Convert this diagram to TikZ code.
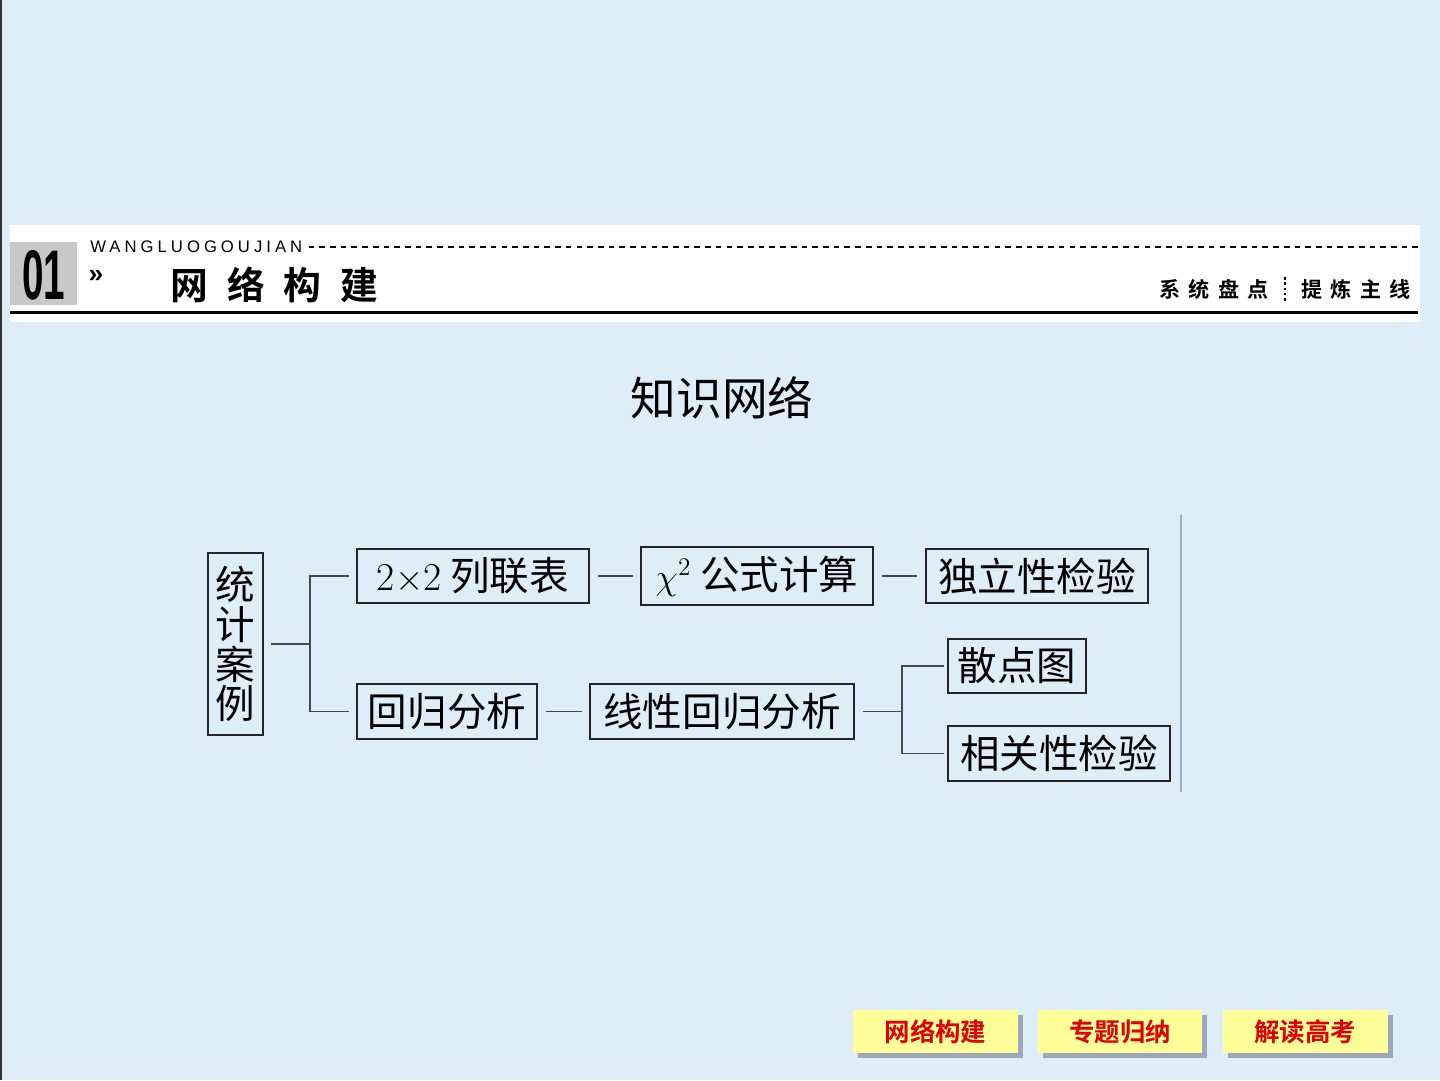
\documentclass[tikz,border=0pt]{standalone}
\usepackage{fontspec}
\setsansfont{Liberation Sans}
\newfontfamily\cjk[BoldFont={* Bold}]{Noto Sans CJK SC}
\usepackage{xcolor}
\usepackage{tikz}
\usetikzlibrary{shadows,calc}
\definecolor{bgblue}{HTML}{DDEEF9}
\definecolor{numgray}{HTML}{C8C8C8}
\definecolor{rulegray}{HTML}{9FB0C2}
\definecolor{navyellow}{HTML}{FFFF99}
\definecolor{navshadow}{HTML}{9EA8BA}
\definecolor{navred}{HTML}{E00000}
\tikzset{
  kbox/.style={draw=black!85,line width=1.1pt,inner sep=0pt,align=center,
    font=\cjk\fontsize{22.5}{22.7}\selectfont},
  klink/.style={line width=1pt,draw=black!72},
  knav/.style={fill=navyellow,inner sep=0pt,minimum width=3.3cm,minimum height=0.86cm,
    text=navred,font=\cjk\bfseries\fontsize{14.5}{16}\selectfont,
    drop shadow={shadow xshift=0.1cm,shadow yshift=-0.1cm,fill=navshadow,opacity=1}}
}

\begin{document}
\begin{tikzpicture}[x=0.02cm,y=-0.02cm]
  \useasboundingbox (0,0) rectangle (1440,1080);
  \fill[bgblue] (0,0) rectangle (1440,1080);
  \draw[black!80,line width=1.2pt] (0.5,0) -- (0.5,1080);

  % header band
  \fill[white] (10,225) rectangle (1420,322);
  \fill[numgray] (10,242) rectangle (77,305);
  \node[font=\sffamily\bfseries\fontsize{40}{40}\selectfont,xscale=0.55] (num) at (44,275) {01};
  \node[font=\sffamily\fontsize{9.5}{10}\selectfont\addfontfeature{LetterSpace=24},anchor=west,inner sep=0pt] (pinyin) at (90,247) {WANGLUOGOUJIAN};
  \draw[black,line width=0.8pt,dash pattern=on 3.2pt off 2.9pt] (pinyin.east) ++(6,0) coordinate (d0) -- (1420,247) coordinate (d1);
  \node[font=\sffamily\bfseries\fontsize{15}{15}\selectfont,inner sep=0pt] (chev) at (96,276) {»};
  \node[font=\cjk\bfseries\fontsize{21.5}{21.5}\selectfont\addfontfeature{LetterSpace=50},anchor=west,inner sep=0pt] (head) at (170,285) {网络构建};
  \draw[black,line width=1.7pt] (10,312) -- (1418,312);
  \node[font=\cjk\bfseries\fontsize{12}{12}\selectfont\addfontfeature{LetterSpace=40},inner sep=0pt] (tag1) at (1214,289) {系统盘点};
  \node[font=\cjk\bfseries\fontsize{12}{12}\selectfont\addfontfeature{LetterSpace=40},inner sep=0pt] (tag2) at (1356,289) {提炼主线};
  \draw[black,line width=1pt,dash pattern=on 1.5pt off 1.5pt] (1285,277) -- (1285,302);

  \node[font=\cjk\fontsize{26}{26}\selectfont] (title) at (722,398) {知识网络};

  % knowledge network
  \node[kbox,minimum width=1.1cm,minimum height=3.64cm] (tongji) at (235.5,644) {统\\计\\案\\例};
  \node[kbox,minimum width=4.64cm,minimum height=1.08cm] (lianbiao) at (473,576) {{\rmfamily 2$\times$2} 列联表};
  \node[kbox,minimum width=4.64cm,minimum height=1.16cm] (chi) at (757,576) {$\chi^2$ 公式计算};
  \node[kbox,minimum width=4.44cm,minimum height=1.08cm] (duli) at (1037,576) {独立性检验};
  \node[kbox,minimum width=3.6cm,minimum height=1.1cm] (huigui) at (447,711.5) {回归分析};
  \node[kbox,minimum width=5.28cm,minimum height=1.1cm] (xianxing) at (722,711.5) {线性回归分析};
  \node[kbox,minimum width=2.76cm,minimum height=1.08cm] (sandian) at (1017,666) {散点图};
  \node[kbox,minimum width=4.44cm,minimum height=1.1cm] (xiangguan) at (1059,753.5) {相关性检验};
  \coordinate (b1) at (310,644);
  \coordinate (b2) at (902,711.5);
  \draw[klink,shorten <=4pt] (tongji.east) -- (b1);
  \draw[klink,shorten <=4pt,shorten >=4pt] (lianbiao.west) -| (b1) |- (huigui.west);
  \draw[klink,shorten <=4.5pt,shorten >=4pt] (lianbiao) -- (chi);
  \draw[klink,shorten <=4.5pt,shorten >=4.5pt] (chi) -- (duli);
  \draw[klink,shorten <=4.5pt,shorten >=4pt] (huigui) -- (xianxing);
  \draw[klink,shorten <=4.5pt] (xianxing.east) -- (b2);
  \draw[klink,shorten <=2pt,shorten >=2pt] (sandian.west) -| (b2) |- (xiangguan.west);
  \draw[rulegray,line width=0.9pt] (1181,515) -- (1181,792);

  % navigation buttons
  \node[knav] (nav1) at (935.5,1031.5) {网络构建};
  \node[knav] (nav2) at (1120,1031.5) {专题归纳};
  \node[knav] (nav3) at (1305,1031.5) {解读高考};
\end{tikzpicture}
\end{document}
